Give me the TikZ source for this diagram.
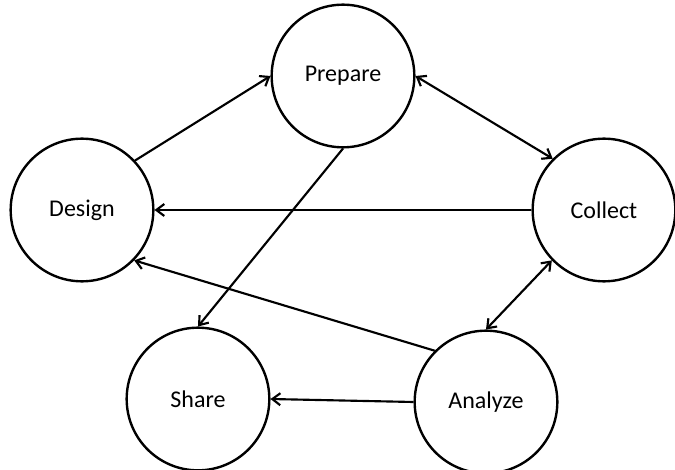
\documentclass[tikz,border=0pt]{standalone}
\usepackage{fontspec}
\setmainfont{Carlito}
\usetikzlibrary{arrows.meta}
\begin{document}
\begin{tikzpicture}[x=0.75pt,y=-0.75pt,
  stage/.style={circle,draw=black,line width=1.8pt,inner sep=0pt,minimum size=107pt,font=\fontsize{18}{20}\selectfont},
  tip/.style={},
  link/.style={line width=1.6pt,-{Straight Barb[length=6pt,width=9pt,line width=1.6pt]}},
  dlink/.style={line width=1.6pt,{Straight Barb[length=6pt,width=9pt,line width=1.6pt]}-{Straight Barb[length=6pt,width=9pt,line width=1.6pt]}}]
\useasboundingbox (0,0) rectangle (675,470);
\node[stage] (prepare) at (343,76) {Prepare};
\node[stage] (design) at (82,210) {Design};
\node[stage] (collect) at (604,210) {Collect};
\node[stage] (share) at (198,399) {Share};
\node[stage] (analyze) at (486,402) {Analyze};
\draw[link] (design.43) -- (prepare.west);
\draw[dlink] (prepare.east) -- (collect.135);
\draw[link] (collect.west) -- (design.east);
\draw[link] (prepare.south) -- (share.north);
\draw[link] (analyze.135) -- (design.-44);
\draw[dlink] (collect.224) -- (analyze.north);
\draw[link] (analyze.west) -- (share.east);
\end{tikzpicture}
\end{document}
